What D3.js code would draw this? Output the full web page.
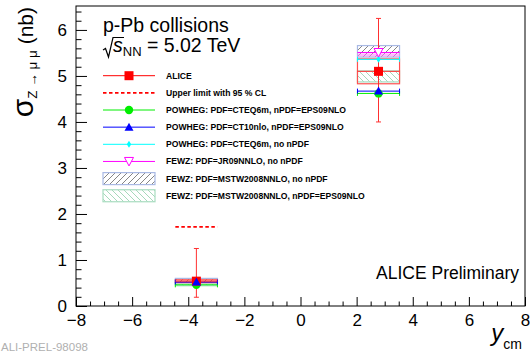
<!DOCTYPE html>
<html><head><meta charset="utf-8">
<script src="https://cdn.jsdelivr.net/npm/d3@7/dist/d3.min.js"></script>
<style>body{margin:0;background:#fff}svg{display:block}text{font-family:"Liberation Sans",Arial,sans-serif}</style>
</head><body><svg id="c" width="530" height="356"></svg>
<script>
// ---- data ----
const rapCenters = [-3.71, 2.78];
const rapHalfWidth = [0.75, 0.75];
const aliceVal = [0.54, 5.10];
const aliceErrUp = [0.71, 1.15];
const aliceErrDown = [0.35, 1.10];
const aliceSyst = [0.03, 0.27];
const upperLimit95 = [1.72, null];
const powhegCteq6mEps09 = [0.46, 4.62];
const powhegCt10nloEps09 = [0.52, 4.67];
const powhegCteq6mNoNpdf = [null, 5.36];
const fewzJr09 = [null, 5.51];
const fewzJr09Band = [[null, null], [5.42, 5.49]];
const fewzMstwNoNpdf = [[0.51, 0.60], [5.41, 5.66]];
const fewzMstwEps09 = [[0.44, 0.48], [4.87, 5.11]];
const xTicksMajor = [-8, -6, -4, -2, 0, 2, 4, 6, 8];
const yTicksMajor = [0, 1, 2, 3, 4, 5, 6];
const legendLabels = [
  "ALICE",
  "Upper limit with 95 % CL",
  "POWHEG: PDF=CTEQ6m, nPDF=EPS09NLO",
  "POWHEG: PDF=CT10nlo, nPDF=EPS09NLO",
  "POWHEG: PDF=CTEQ6m, no nPDF",
  "FEWZ: PDF=JR09NNLO, no nPDF",
  "FEWZ: PDF=MSTW2008NNLO, no nPDF",
  "FEWZ: PDF=MSTW2008NNLO, nPDF=EPS09NLO"
];

const svg = d3.select("#c");
const L = 76, R = 525, T = 6, B = 306;
const x = d3.scaleLinear().domain([-8, 8]).range([L, R]);
const y = d3.scaleLinear().domain([0, 6.52]).range([B, T]);

// patterns
const defs = svg.append("defs");
const p1 = defs.append("pattern").attr("id", "hatchBlue").attr("patternUnits", "userSpaceOnUse")
  .attr("width", 6).attr("height", 6);
p1.append("path").attr("d", "M-1,7 L7,-1 M-1,1 L1,-1 M5,7 L7,5").attr("stroke", "#666").attr("stroke-width", 0.8);
const p2 = defs.append("pattern").attr("id", "hatchGreen").attr("patternUnits", "userSpaceOnUse")
  .attr("width", 6).attr("height", 6);
p2.append("path").attr("d", "M-1,-1 L7,7 M5,-1 L7,1 M-1,5 L1,7").attr("stroke", "#8fcfaa").attr("stroke-width", 0.8);

// frame
svg.append("rect").attr("x", L).attr("y", T).attr("width", R - L).attr("height", B - T)
  .attr("fill", "none").attr("stroke", "#000").attr("stroke-width", 1);

// axes
const yMinor = d3.range(0, 6.51, 0.2).map(v => +v.toFixed(2)).filter(v => !yTicksMajor.includes(v));
const xMinor = d3.range(-8, 8.01, 0.5).filter(v => !xTicksMajor.includes(v));
const fmt = d => (d < 0 ? "\u2212" + Math.abs(d) : "" + d);

const gy = svg.append("g").attr("transform", `translate(${L},0)`)
  .call(d3.axisLeft(y).tickValues(yTicksMajor).tickSize(-11).tickPadding(9).tickFormat(fmt));
const gy2 = svg.append("g").attr("transform", `translate(${L},0)`)
  .call(d3.axisLeft(y).tickValues(yMinor).tickSize(-5.5).tickFormat(""));
const gx = svg.append("g").attr("transform", `translate(0,${B})`)
  .call(d3.axisBottom(x).tickValues(xTicksMajor).tickSize(-9).tickPadding(8).tickFormat(fmt));
const gx2 = svg.append("g").attr("transform", `translate(0,${B})`)
  .call(d3.axisBottom(x).tickValues(xMinor).tickSize(-4.5).tickFormat(""));
[gy, gy2, gx, gx2].forEach(g => {
  g.select(".domain").remove();
  g.selectAll("line").attr("stroke", "#000");
  g.selectAll("text").attr("font-size", 17).attr("fill", "#000").attr("font-family", "Liberation Sans, Arial, sans-serif");
});

// titles
const yl = svg.append("text").attr("transform", "translate(33,7) rotate(-90)").attr("text-anchor", "end").attr("fill", "#000");
yl.append("tspan").attr("font-size", 30).text("\u03c3");
yl.append("tspan").attr("font-size", 13.5).attr("dy", 4).text("Z \u2192 \u03bc \u03bc");
yl.append("tspan").attr("font-size", 21).attr("dy", -4).text(" (nb)");

const xl = svg.append("text").attr("x", 522).attr("y", 341).attr("text-anchor", "end").attr("fill", "#000");
xl.append("tspan").attr("font-size", 24).attr("font-style", "italic").text("y");
xl.append("tspan").attr("font-size", 14).attr("dy", 8).text("cm");

svg.append("text").attr("x", 103).attr("y", 32).attr("font-size", 19.5).text("p-Pb collisions");
// square root sign
svg.append("path").attr("d", "M103,50 L105.5,48.5 L108.5,57 L113,37.5 L124,37.5")
  .attr("fill", "none").attr("stroke", "#000").attr("stroke-width", 1.2);
const s2 = svg.append("text").attr("x", 113).attr("y", 52).attr("font-size", 19.5);
s2.append("tspan").attr("font-style", "italic").text("s");
s2.append("tspan").attr("font-size", 13).attr("dy", 4).text("NN");
s2.append("tspan").attr("dy", -4).text(" = 5.02 TeV");

svg.append("text").attr("x", 519).attr("y", 279).attr("text-anchor", "end").attr("font-size", 17.5).text("ALICE Preliminary");

svg.append("text").attr("x", 1).attr("y", 351).attr("font-family", "Liberation Mono, DejaVu Sans Mono, monospace").attr("font-size", 11.5)
  .attr("fill", "#b0b0b0").text("ALI-PREL-98098");

// marker helpers
function marker(g, type, cx, cy) {
  if (type === "square") g.append("rect").attr("x", cx - 4.5).attr("y", cy - 4.5).attr("width", 9).attr("height", 9).attr("fill", "#ff0000");
  if (type === "circle") g.append("circle").attr("cx", cx).attr("cy", cy).attr("r", 4.2).attr("fill", "#00ee00");
  if (type === "tri") g.append("path").attr("d", `M${cx},${cy - 4.5} L${cx + 4.5},${cy + 3.5} L${cx - 4.5},${cy + 3.5}Z`).attr("fill", "#0000ff");
  if (type === "diamond") g.append("path").attr("d", `M${cx},${cy - 3.5} L${cx + 2.2},${cy} L${cx},${cy + 3.5} L${cx - 2.2},${cy}Z`).attr("fill", "#00ffff");
  if (type === "tridown") g.append("path").attr("d", `M${cx - 4.5},${cy - 4} L${cx + 4.5},${cy - 4} L${cx},${cy + 4.5}Z`).attr("fill", "#fff").attr("stroke", "#ff00ff").attr("stroke-width", 1);
}

// legend
const lg = svg.append("g");
const legY = d3.range(8).map(i => 75.7 + i * 17.15);
const legendStyle = [
  {c: "#ff0000", m: "square"}, {c: "#ff0000", dash: true}, {c: "#00ee00", m: "circle"},
  {c: "#0000ff", m: "tri"}, {c: "#00ffff", m: "diamond"}, {c: "#ff00ff", m: "tridown"},
  {box: "hatchBlue", stroke: "#a9b9e4"}, {box: "hatchGreen", stroke: "#a8dcc0"}
];
legendLabels.forEach((t, i) => {
  const s = legendStyle[i], cy = legY[i];
  if (s.box) {
    lg.append("rect").attr("x", 103).attr("y", cy - 6).attr("width", 52).attr("height", 12)
      .attr("fill", `url(#${s.box})`).attr("stroke", s.stroke).attr("stroke-width", 1.2);
  } else {
    lg.append("line").attr("x1", 103).attr("x2", 155).attr("y1", cy).attr("y2", cy)
      .attr("stroke", s.c).attr("stroke-width", s.dash ? 1.6 : 1).attr("stroke-dasharray", s.dash ? "3.5,2.5" : null);
    if (s.m) marker(lg, s.m, 129, cy);
  }
  lg.append("text").attr("x", 166).attr("y", cy + 3).attr("font-size", 8.6).attr("font-weight", "bold").text(t);
});

// data
const dg = svg.append("g");
function hbar(i, v, color, caps) {
  const x0 = x(rapCenters[i] - rapHalfWidth[i]), x1 = x(rapCenters[i] + rapHalfWidth[i]), yy = y(v);
  dg.append("line").attr("x1", x0).attr("x2", x1).attr("y1", yy).attr("y2", yy).attr("stroke", color).attr("stroke-width", 1);
  if (caps) [x0, x1].forEach(xx => dg.append("line").attr("x1", xx).attr("x2", xx).attr("y1", yy - 2.5).attr("y2", yy + 2.5).attr("stroke", color));
}
rapCenters.forEach((c, i) => {
  const x0 = x(c - rapHalfWidth[i]), w = x(c + rapHalfWidth[i]) - x0;
  const eb = fewzMstwEps09[i];
  dg.append("rect").attr("x", x0).attr("y", y(eb[1])).attr("width", w).attr("height", y(eb[0]) - y(eb[1]))
    .attr("fill", "url(#hatchGreen)").attr("stroke", "#a8dcc0").attr("stroke-width", 1.2);
  const nb = fewzMstwNoNpdf[i];
  dg.append("rect").attr("x", x0).attr("y", y(nb[1])).attr("width", w).attr("height", y(nb[0]) - y(nb[1]))
    .attr("fill", "url(#hatchBlue)").attr("stroke", "#a9b9e4").attr("stroke-width", 1.2);
  const fb = fewzJr09Band[i];
  if (fb[0] != null) dg.append("rect").attr("x", x0).attr("y", y(fb[1])).attr("width", w).attr("height", y(fb[0]) - y(fb[1]))
    .attr("fill", "#ff80ff").attr("opacity", 0.55);
  dg.append("rect").attr("x", x0).attr("y", y(aliceVal[i] + aliceSyst[i])).attr("width", w)
    .attr("height", y(aliceVal[i] - aliceSyst[i]) - y(aliceVal[i] + aliceSyst[i]))
    .attr("fill", i === 0 ? "#ff0000" : "none").attr("fill-opacity", 0.25).attr("stroke", "#ff5050").attr("stroke-width", 1.2);
  if (powhegCteq6mEps09[i] != null) hbar(i, powhegCteq6mEps09[i], "#00ee00", true);
  if (powhegCt10nloEps09[i] != null) hbar(i, powhegCt10nloEps09[i], "#0000ff", true);
  if (powhegCteq6mNoNpdf[i] != null) hbar(i, powhegCteq6mNoNpdf[i], "#00ffff", true);
  if (fewzJr09[i] != null) hbar(i, fewzJr09[i], "#ff00ff", false);
  if (upperLimit95[i] != null) dg.append("line").attr("x1", x0).attr("x2", x0 + w).attr("y1", y(upperLimit95[i])).attr("y2", y(upperLimit95[i]))
    .attr("stroke", "#ff0000").attr("stroke-width", 1.6).attr("stroke-dasharray", "3.5,2.5");
  const cx = x(c);
  hbar(i, aliceVal[i], "#ff3030", false);
  dg.append("line").attr("x1", cx).attr("x2", cx).attr("y1", y(aliceVal[i] + aliceErrUp[i])).attr("y2", y(aliceVal[i] - aliceErrDown[i]))
    .attr("stroke", "#ff3030").attr("stroke-width", 1);
  [aliceVal[i] + aliceErrUp[i], aliceVal[i] - aliceErrDown[i]].forEach(v =>
    dg.append("line").attr("x1", cx - 2.5).attr("x2", cx + 2.5).attr("y1", y(v)).attr("y2", y(v)).attr("stroke", "#ff3030"));
  if (powhegCteq6mEps09[i] != null) marker(dg, "circle", cx, y(powhegCteq6mEps09[i]));
  if (powhegCteq6mNoNpdf[i] != null) marker(dg, "diamond", cx, y(powhegCteq6mNoNpdf[i]));
  if (fewzJr09[i] != null) marker(dg, "tridown", cx, y(fewzJr09[i]));
  marker(dg, "square", cx, y(aliceVal[i]));
  if (powhegCt10nloEps09[i] != null) marker(dg, "tri", cx, y(powhegCt10nloEps09[i]));
});
</script></body></html>
